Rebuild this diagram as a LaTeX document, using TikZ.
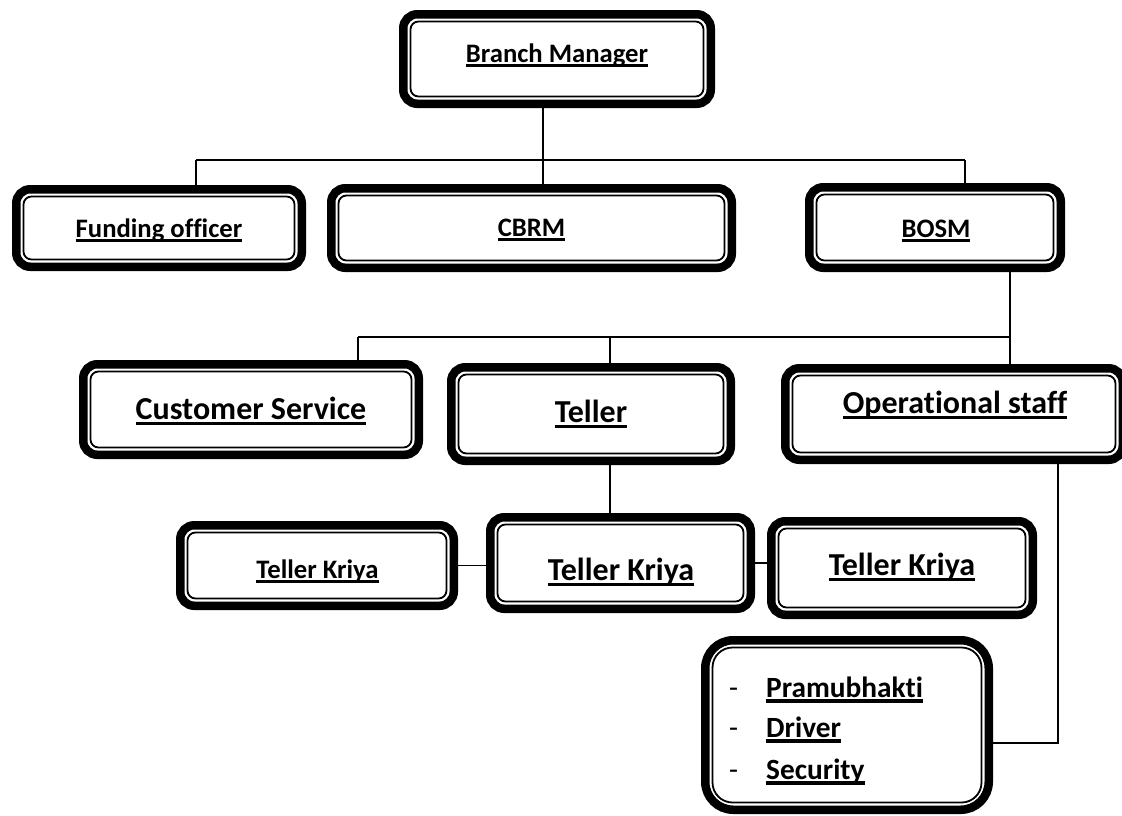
\documentclass[tikz,border=0pt]{standalone}
\usepackage{fontspec}
\setmainfont{Carlito}[Ligatures=NoCommon]
\usetikzlibrary{calc}
\newsavebox\ulbox
\newcommand\uln[1]{\sbox\ulbox{#1}\rlap{\vrule height -0.08em depth 0.2em width \wd\ulbox}\usebox\ulbox}
\tikzset{
  outerb/.style={draw=black, fill=white, line width=8.5pt, inner sep=0pt},
  innerb/.style={draw=black, line width=1.8pt, inner sep=0pt},
  conn/.style={draw=black, line width=1.4pt},
  lbl/.style={anchor=base, inner sep=0pt, font=\bfseries\fontsize{26.67}{30}\selectfont},
  lblbig/.style={anchor=base, inner sep=0pt, font=\bfseries\fontsize{32}{36}\selectfont},
  lbllist/.style={anchor=base west, inner sep=0pt, font=\bfseries\fontsize{29.33}{33}\selectfont},
  dashlbl/.style={anchor=base west, inner sep=0pt, font=\fontsize{29.33}{33}\selectfont},
}
% name, x1, y1, x2, y2, outer radius, inner radius
\newcommand\orgbox[7]{%
  \node[outerb, rounded corners=#6, minimum width={#4-#2-8.5}, minimum height={#5-#3-8.5}] (#1) at ({(#2+#4)/2},{(#3+#5)/2}) {};
  \node[innerb, rounded corners=#7, minimum width={#4-#2-23}, minimum height={#5-#3-23}] (#1-in) at (#1.center) {};
}
\begin{document}
\begin{tikzpicture}[x=1pt,y=-1pt]
\useasboundingbox[fill=white] (0,0) rectangle (1122,815);
% boxes
\orgbox{bm}{399}{10}{715}{108}{14pt}{8pt}
\orgbox{fo}{12}{185}{306}{271}{14pt}{8pt}
\orgbox{cb}{327}{184}{736}{272}{14pt}{8pt}
\orgbox{bo}{805}{183}{1065}{272}{14pt}{8pt}
\orgbox{cs}{79}{360}{423}{459}{14pt}{8pt}
\orgbox{te}{447}{363}{735}{465}{14pt}{8pt}
\orgbox{op}{781}{364}{1127}{464}{14pt}{8pt}
\orgbox{tka}{176}{521}{458}{610}{14pt}{8pt}
\orgbox{tkb}{486}{513}{755}{613}{14pt}{8pt}
\orgbox{tkc}{767}{517}{1037}{619}{14pt}{8pt}
\orgbox{pl}{701}{636}{993}{814}{28pt}{20pt}
% labels
\node[lbl] (bm-t) at (557,62) {\uln{Branch Manager}};
\node[lbl] (fo-t) at (159,237) {\uln{Funding officer}};
\node[lbl] (cb-t) at (531.5,236) {\uln{CBRM}};
\node[lbl] (bo-t) at (936,237) {\uln{BOSM}};
\node[lblbig] (cs-t) at (251,419) {\uln{Customer Service}};
\node[lblbig] (te-t) at (591,422) {\uln{Teller}};
\node[lblbig] (op-t) at (955,413) {\uln{Operational staff}};
\node[lbl] (tka-t) at (317.5,578) {\uln{Teller Kriya}};
\node[lblbig] (tkb-t) at (621,580) {\uln{Teller Kriya}};
\node[lblbig] (tkc-t) at (902,575) {\uln{Teller Kriya}};
\node[dashlbl] (d1) at (729,697) {-};
\node[dashlbl] (d2) at (729,737) {-};
\node[dashlbl] (d3) at (729,779) {-};
\node[lbllist] (l1) at (766,697) {\uln{Pramubhakti}};
\node[lbllist] (l2) at (766,737) {\uln{Driver}};
\node[lbllist] (l3) at (766,779) {\uln{Security}};
% connectors
\coordinate (j1) at (543,160);
\coordinate (jfo) at (196,160);
\coordinate (jbo) at (965,160);
\draw[conn] (j1 |- bm.south) -- (j1);
\draw[conn] (jfo) -- (jbo);
\draw[conn] (jfo) -- (jfo |- fo.north);
\draw[conn] (j1) -- (j1 |- cb.north);
\draw[conn] (jbo) -- (jbo |- bo.north);
\coordinate (j2) at (1010,337);
\coordinate (jcs) at (358,337);
\coordinate (jte) at (610,337);
\draw[conn] (j2 |- bo.south) -- (j2 |- op.north);
\draw[conn] (jcs) -- (j2);
\draw[conn] (jcs) -- (jcs |- cs.north);
\draw[conn] (jte) -- (jte |- te.north);
\draw[conn] (jte |- te.south) -- (jte |- tkb.north);
\draw[conn] (tka.east) -- (tka.east -| tkb.west);
\draw[conn] (tkb.east) -- (tkb.east -| tkc.west);
\coordinate (jop) at (1058,743);
\draw[conn] (jop |- op.south) -- (jop) -- (jop -| pl.east);
\end{tikzpicture}
\end{document}
